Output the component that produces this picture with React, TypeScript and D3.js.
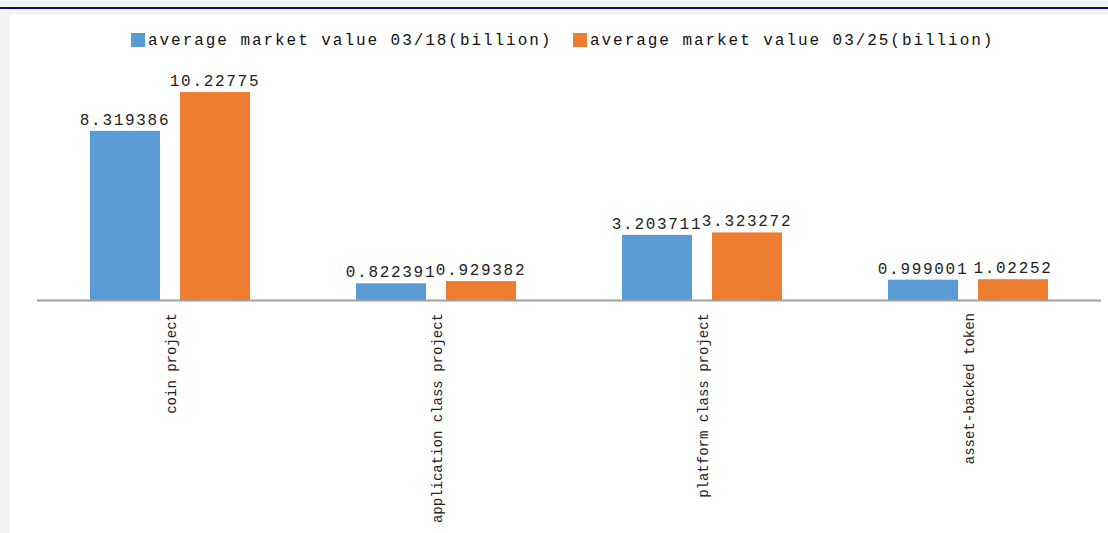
import React from 'react';
import * as d3 from 'd3';

const categories = ['coin project', 'application class project', 'platform class project', 'asset-backed token'];
const seriesNames = ['average market value 03/18(billion)', 'average market value 03/25(billion)'];
const values0318 = [8.319386, 0.822391, 3.203711, 0.999001];
const values0325 = [10.22775, 0.929382, 3.323272, 1.02252];
const labels0318 = ['8.319386', '0.822391', '3.203711', '0.999001'];
const labels0325 = ['10.22775', '0.929382', '3.323272', '1.02252'];
const colors = ['#5b9bd5', '#ed7d31'];

const W = 1108;
const H = 533;
const mono = "'Liberation Mono', 'Courier New', monospace";

export default function App() {
  const x = d3.scaleBand<string>().domain(categories).range([37, 1101]).paddingInner(0).paddingOuter(0);
  const y = d3.scaleLinear().domain([0, 12]).range([300, 56]);
  const barW = 70;
  const gap = 20;
  const series = [
    { name: seriesNames[0], values: values0318, labels: labels0318, color: colors[0] },
    { name: seriesNames[1], values: values0325, labels: labels0325, color: colors[1] },
  ];
  const [x0, x1] = x.range();

  return (
    <div style={{ position: 'fixed', left: 0, top: 0 }}>
      <svg width={W} height={H} style={{ display: 'block', fontFamily: mono }}>
        <rect x={0} y={0} width={W} height={H} fill="#f3f4f6" />
        <rect x={0} y={7} width={W} height={2} fill="#0b0b80" />
        <rect x={10} y={14} width={W - 10} height={H - 14} fill="#ffffff" />

        {/* legend */}
        <g style={{ fontSize: 16, letterSpacing: '1.95px' }} fill="#111">
          <rect x={131} y={33} width={14} height={14} fill={colors[0]} />
          <text x={148} y={45}>{seriesNames[0]}</text>
          <rect x={573} y={33} width={14} height={14} fill={colors[1]} />
          <text x={590} y={45}>{seriesNames[1]}</text>
        </g>

        {/* bars */}
        {series.map((s, si) => (
          <g key={s.name}>
            {categories.map((c, i) => {
              const cx = (x(c) ?? 0) + x.bandwidth() / 2;
              const bx = si === 0 ? cx - gap / 2 - barW : cx + gap / 2;
              return (
                <rect
                  key={c}
                  x={bx}
                  y={y(s.values[i])}
                  width={barW}
                  height={y(0) - y(s.values[i])}
                  fill={s.color}
                />
              );
            })}
          </g>
        ))}

        {/* value labels */}
        {series.map((s, si) => (
          <g key={s.name + '-lbl'} style={{ fontSize: 16, letterSpacing: '1.7px' }} fill="#222" textAnchor="middle">
            {categories.map((c, i) => {
              const cx = (x(c) ?? 0) + x.bandwidth() / 2;
              const bx = si === 0 ? cx - gap / 2 - barW / 2 : cx + gap / 2 + barW / 2;
              return (
                <text key={c} x={bx} y={y(s.values[i]) - 6}>
                  {s.labels[i]}
                </text>
              );
            })}
          </g>
        ))}

        {/* axis */}
        <line x1={x0} x2={x1} y1={300.5} y2={300.5} stroke="#a0a0a0" strokeWidth={2} />

        {/* category labels */}
        <g style={{ fontSize: 14 }} fill="#222">
          {categories.map((c) => {
            const cx = (x(c) ?? 0) + x.bandwidth() / 2 + 2;
            return (
              <text
                key={c}
                transform={`translate(${cx},313) rotate(-90)`}
                textAnchor="end"
                dominantBaseline="middle"
              >
                {c}
              </text>
            );
          })}
        </g>
      </svg>
    </div>
  );
}
